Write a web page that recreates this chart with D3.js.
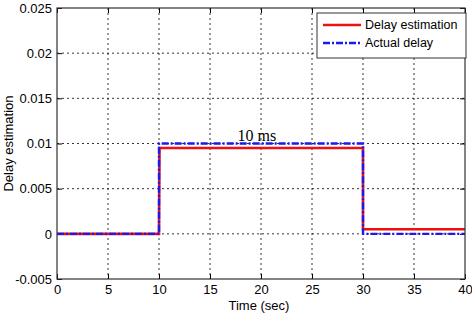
<!DOCTYPE html>
<html>
<head>
<meta charset="utf-8">
<script src="https://cdn.jsdelivr.net/npm/d3@7"></script>
<style>
  body { margin: 0; background: #fff; }
</style>
</head>
<body>
<svg class="chart"></svg>
<script>
// data
const xTicks = [0, 5, 10, 15, 20, 25, 30, 35, 40];
const yTicks = [-0.005, 0, 0.005, 0.01, 0.015, 0.02, 0.025];
const yTickLabels = ["-0.005", "0", "0.005", "0.01", "0.015", "0.02", "0.025"];
const estTime = [0, 10, 10.05, 30, 30, 40];
const estValue = [0, 0, 0.0095, 0.0095, 0.0005, 0.0005];
const actTime = [0, 10, 10, 30, 30, 40];
const actValue = [0, 0, 0.01, 0.01, 0, 0];
const seriesNames = ["Delay estimation", "Actual delay"];

const width = 472, height = 316;
const margin = { left: 57, right: 7, top: 8, bottom: 37 };
const sans = '"Liberation Sans", Arial, sans-serif';

const svg = d3.select('.chart')
    .attr('width', width)
    .attr('height', height)
    .style('font-family', sans);

const x = d3.scaleLinear().domain([0, 40]).range([margin.left, width - margin.right]);
const y = d3.scaleLinear().domain([-0.005, 0.025]).range([height - margin.bottom, margin.top]);

// grid
const grid = svg.append('g');
grid.selectAll('.vg').data(xTicks.slice(1, -1)).enter().append('line')
    .attr('x1', d => x(d)).attr('x2', d => x(d))
    .attr('y1', y.range()[1]).attr('y2', y.range()[0])
    .attr('stroke', '#000').attr('stroke-width', 0.8).attr('stroke-dasharray', '2,3');
grid.selectAll('.hg').data(yTicks.slice(1, -1)).enter().append('line')
    .attr('y1', d => y(d)).attr('y2', d => y(d))
    .attr('x1', x.range()[0]).attr('x2', x.range()[1])
    .attr('stroke', '#000').attr('stroke-width', 0.8).attr('stroke-dasharray', '2,3');

// axes with inward ticks (box style)
const fmtY = (d, i) => yTickLabels[i];
svg.append('g').attr('transform', `translate(0,${y(-0.005)})`)
    .call(d3.axisBottom(x).tickValues(xTicks).tickSizeInner(-5).tickSizeOuter(0).tickPadding(6))
    .call(g => g.select('.domain').remove());
svg.append('g').attr('transform', `translate(${x(0)},0)`)
    .call(d3.axisLeft(y).tickValues(yTicks).tickFormat(fmtY).tickSizeInner(-5).tickSizeOuter(0).tickPadding(5))
    .call(g => g.select('.domain').remove());
svg.append('g').attr('transform', `translate(0,${y(0.025)})`)
    .call(d3.axisTop(x).tickValues(xTicks).tickSizeInner(-5).tickSizeOuter(0).tickFormat(''))
    .call(g => g.select('.domain').remove());
svg.append('g').attr('transform', `translate(${x(40)},0)`)
    .call(d3.axisRight(y).tickValues(yTicks).tickSizeInner(-5).tickSizeOuter(0).tickFormat(''))
    .call(g => g.select('.domain').remove());

svg.selectAll('.tick text').attr('font-size', 13).attr('fill', '#000')
    .attr('font-family', sans);
svg.selectAll('.tick line').attr('stroke', '#000');

// lines
const line = d3.line().x(d => x(d[0])).y(d => y(d[1]));
const est = estTime.map((t, i) => [t, estValue[i]]);
const act = actTime.map((t, i) => [t, actValue[i]]);

svg.append('path').datum(est).attr('d', line)
    .attr('fill', 'none').attr('stroke', '#ee1111').attr('stroke-width', 2.6);
svg.append('path').datum(act).attr('d', line)
    .attr('fill', 'none').attr('stroke', '#1a1aee').attr('stroke-width', 2.4)
    .attr('stroke-dasharray', '7,2,2,2');

// plot box
svg.append('rect')
    .attr('x', x(0)).attr('y', y(0.025))
    .attr('width', x(40) - x(0)).attr('height', y(-0.005) - y(0.025))
    .attr('fill', 'none').attr('stroke', '#333').attr('stroke-width', 1.2);

// annotation
svg.append('text')
    .attr('x', x(19.6)).attr('y', y(0.01) - 3)
    .attr('text-anchor', 'middle')
    .style('font-family', '"Liberation Serif", "Times New Roman", serif')
    .attr('font-size', 16)
    .text('10 ms');

// axis labels
svg.append('text')
    .attr('x', x(19.8)).attr('y', 310)
    .attr('text-anchor', 'middle').attr('font-size', 13)
    .text('Time (sec)');
svg.append('text')
    .attr('transform', `translate(13,${y(0.01)}) rotate(-90)`)
    .attr('text-anchor', 'middle').attr('font-size', 13)
    .text('Delay estimation');

// legend
const legend = svg.append('g').attr('transform', 'translate(317,13)');
legend.append('rect').attr('width', 149).attr('height', 45)
    .attr('fill', '#fff').attr('stroke', '#333').attr('stroke-width', 1);
const legendItems = legend.selectAll('.item').data(seriesNames).enter().append('g')
    .attr('transform', (d, i) => `translate(0,${12 + i * 18})`);
legendItems.append('line')
    .attr('x1', 6).attr('x2', 44).attr('y1', 0).attr('y2', 0)
    .attr('stroke', (d, i) => i === 0 ? '#ee1111' : '#1a1aee')
    .attr('stroke-width', (d, i) => i === 0 ? 2.6 : 2.4)
    .attr('stroke-dasharray', (d, i) => i === 0 ? null : '7,2,2,2');
legendItems.append('text')
    .attr('x', 48).attr('y', 0).attr('dy', '.35em')
    .attr('font-size', 12.5)
    .text(d => d);
</script>
</body>
</html>
